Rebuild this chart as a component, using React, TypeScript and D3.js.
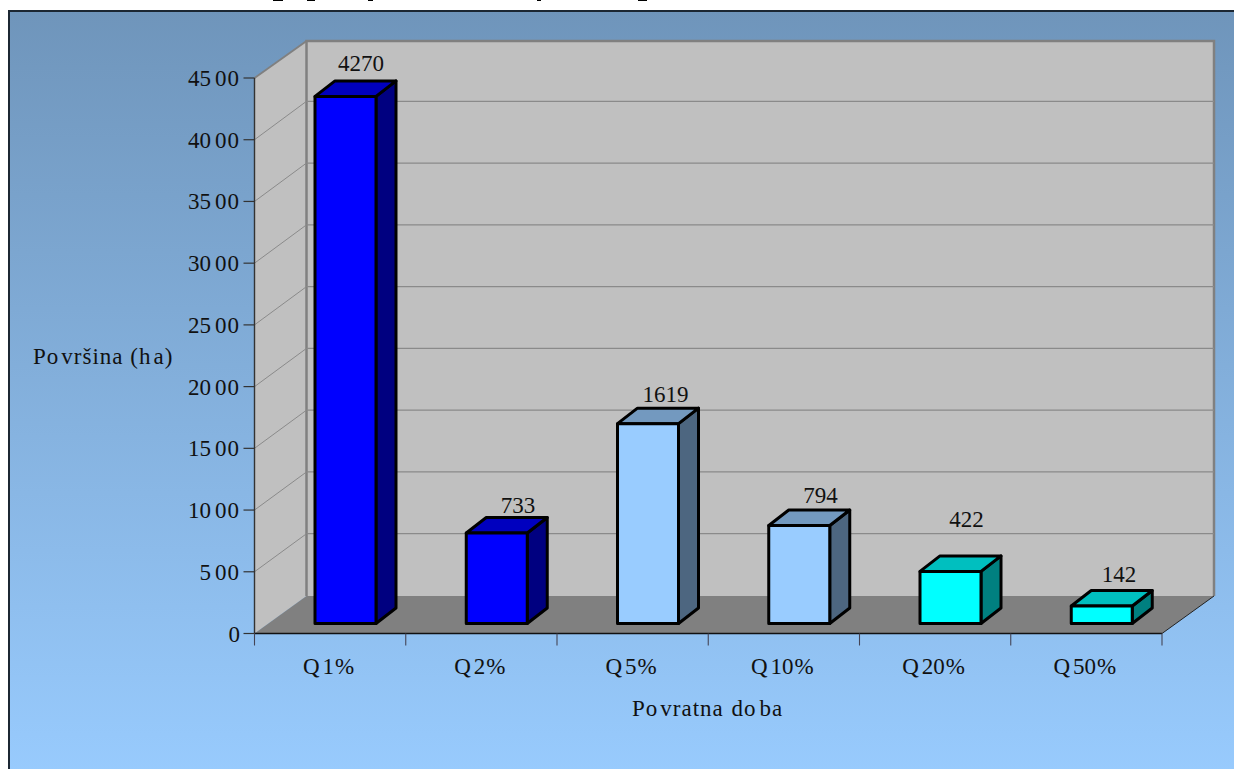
import * as d3 from "d3";

// Flood area per return period
const categories = ["Q1%", "Q2%", "Q5%", "Q10%", "Q20%", "Q50%"];
const areaHa = [4270, 733, 1619, 794, 422, 142];
const yTicks = [0, 500, 1000, 1500, 2000, 2500, 3000, 3500, 4000, 4500];
const yTitle = "Površina (ha)";
const xTitle = "Povratna doba";

// Front, top and side shade of each box
const barFronts = ["#0000ff", "#0000ff", "#99ccff", "#99ccff", "#00ffff", "#00ffff"];
const barTops = ["#0000bf", "#0000bf", "#7399bf", "#7399bf", "#00bfbf", "#00bfbf"];
const barSides = ["#000080", "#000080", "#4d6680", "#4d6680", "#008080", "#008080"];

// Hand placement of the value labels relative to the box front
const labelShiftX = [15.5, 21.25, 17.5, 21.25, 16, 17.25];
const labelShiftY = [-25.5, -20, -22, -22.5, -44.5, -24];

// Remains of a heading cut by the top edge of the page
const clippedInk = [[273, 10], [307, 8], [368, 5], [537, 4], [638, 9]];

const FONT = "'Liberation Serif', 'Times New Roman', serif";
const FS = 23;

const left = 254.5;
const right = 1162;
const wallDx = 52;
const boxDx = 20;
const boxDy = 15.5;
const boxW = 61;
const boxInset = 60.5;
const boxBase = -10;

const y = d3.scaleLinear().domain([0, 4500]).range([633.5, 78]);
const yBack = d3.scaleLinear().domain([0, 4500]).range([595.5, 39.5]);
const x = d3.scaleBand<string>().domain(categories).range([left, right]);

const poly = (pts: number[][]) => d3.line()(pts as [number, number][]) + "Z";

// Per-character gaps reproduce the uneven spacing of the exported text
function gaps(text: string, at: Record<number, number>) {
  return Array.from(text, (_, i) => at[i] ?? 0).join(" ");
}

export default function App() {
  const y0 = y(0);
  const yTop = y(4500);
  const backL = left + wallDx;
  const backR = right + wallDx;
  const backTop = 41;
  const backFloor = 596;
  const xTickValues = [left, ...categories.map((c) => (x(c) as number) + x.bandwidth())];

  return (
    <svg
      width={1234}
      height={769}
      style={{ position: "absolute", left: 0, top: 0, display: "block", background: "#fff" }}
      fontFamily={FONT}
      fontSize={FS}
      fill="#111"
    >
      <defs>
        <linearGradient id="panel" x1="0" y1="0" x2="0" y2="1">
          <stop offset="0" stopColor="#6f95bb" />
          <stop offset="1" stopColor="#99ccff" />
        </linearGradient>
      </defs>

      {clippedInk.map(([px, w]) => (
        <rect key={px} x={px} y={0} width={w} height={1} fill="#000" />
      ))}

      <rect x={9} y={11} width={1240} height={780} fill="url(#panel)" stroke="#1c2733" strokeWidth={2} />

      {/* Walls and floor */}
      <path d={poly([[backL, backTop], [backR, backTop], [backR, backFloor], [backL, backFloor]])} fill="#c0c0c0" />
      <path d={poly([[left, yTop], [backL, backTop], [backL, backFloor], [left, y0]])} fill="#c0c0c0" />
      <path d={poly([[left, y0], [backL, backFloor], [backR, backFloor], [right, y0]])} fill="#808080" />
      <path d={`M${left},${yTop}L${backL},${backTop}`} stroke="#808080" strokeWidth={2} fill="none" />
      <path d={`M${backL},${backFloor}V${backTop}H${backR}V${backFloor}`} stroke="#808080" strokeWidth={2.5} fill="none" />
      <path d={`M${right},${y0}L${backR},${backFloor}`} stroke="#222" strokeWidth={1} fill="none" />

      {/* Gridlines across both walls */}
      {yTicks.filter((t) => t > 0 && t < 4500).map((t) => (
        <g key={t} fill="none" stroke="#8a8a8a">
          <path d={`M${left},${y(t)}L${backL},${yBack(t)}`} strokeWidth={1} />
          <path d={`M${backL},${yBack(t)}H${backR}`} strokeWidth={1.3} />
        </g>
      ))}

      {/* Axes */}
      <path d={`M${left},${yTop}V${y0}`} stroke="#333" strokeWidth={1.4} fill="none" />
      <path d={`M${left},${y0}H${right}`} stroke="#111" strokeWidth={1.4} fill="none" />
      {yTicks.map((t) => (
        <g key={t}>
          <path d={`M${left - 11},${y(t)}H${left}`} stroke="#333" strokeWidth={1.2} />
          <text x={239} y={y(t) + 8} textAnchor="end" dx={gaps(String(t), { [String(t).length - 2]: 4, [String(t).length - 1]: 1 })}>
            {t}
          </text>
        </g>
      ))}
      {xTickValues.map((v) => (
        <path key={v} d={`M${v},${y0}V${y0 + 12}`} stroke="#445" strokeWidth={1.1} />
      ))}
      {categories.map((c) => (
        <text
          key={c}
          x={(x(c) as number) + x.bandwidth() / 2 - 1.5}
          y={674}
          textAnchor="middle"
          dx={gaps(c, { 1: 3, [c.length - 1]: 1 })}
        >
          {c}
        </text>
      ))}

      {/* Boxes */}
      {categories.map((c, i) => {
        const x0 = (x(c) as number) + boxInset;
        const x1 = x0 + boxW;
        const top = y(areaHa[i]) + boxBase;
        const bottom = y0 + boxBase;
        return (
          <g key={c} stroke="#000" strokeWidth={3} strokeLinejoin="round">
            <path d={poly([[x1, top], [x1 + boxDx, top - boxDy], [x1 + boxDx, bottom - boxDy], [x1, bottom]])} fill={barSides[i]} />
            <path d={poly([[x0, top], [x0 + boxDx, top - boxDy], [x1 + boxDx, top - boxDy], [x1, top]])} fill={barTops[i]} />
            <rect x={x0} y={top} width={boxW} height={bottom - top} fill={barFronts[i]} />
          </g>
        );
      })}
      {categories.map((c, i) => (
        <text
          key={c}
          x={(x(c) as number) + boxInset + boxW / 2 + labelShiftX[i]}
          y={y(areaHa[i]) + boxBase + labelShiftY[i]}
          textAnchor="middle"
        >
          {areaHa[i]}
        </text>
      ))}

      {/* Axis titles */}
      <text x={33} y={364} dx={gaps(yTitle, { 1: 1, 2: 3, 3: 1, 4: 1, 5: 1, 6: 1, 7: 1, 8: 1, 9: 1, 10: 1, 11: 3, 12: 1 })}>
        {yTitle}
      </text>
      <text x={632} y={716} dx={gaps(xTitle, { 1: 1, 2: 3, 3: 1, 4: 1, 5: 1, 6: 1, 7: 1, 8: 1, 9: 2, 10: 1, 11: 4, 12: 1 })}>
        {xTitle}
      </text>
    </svg>
  );
}
